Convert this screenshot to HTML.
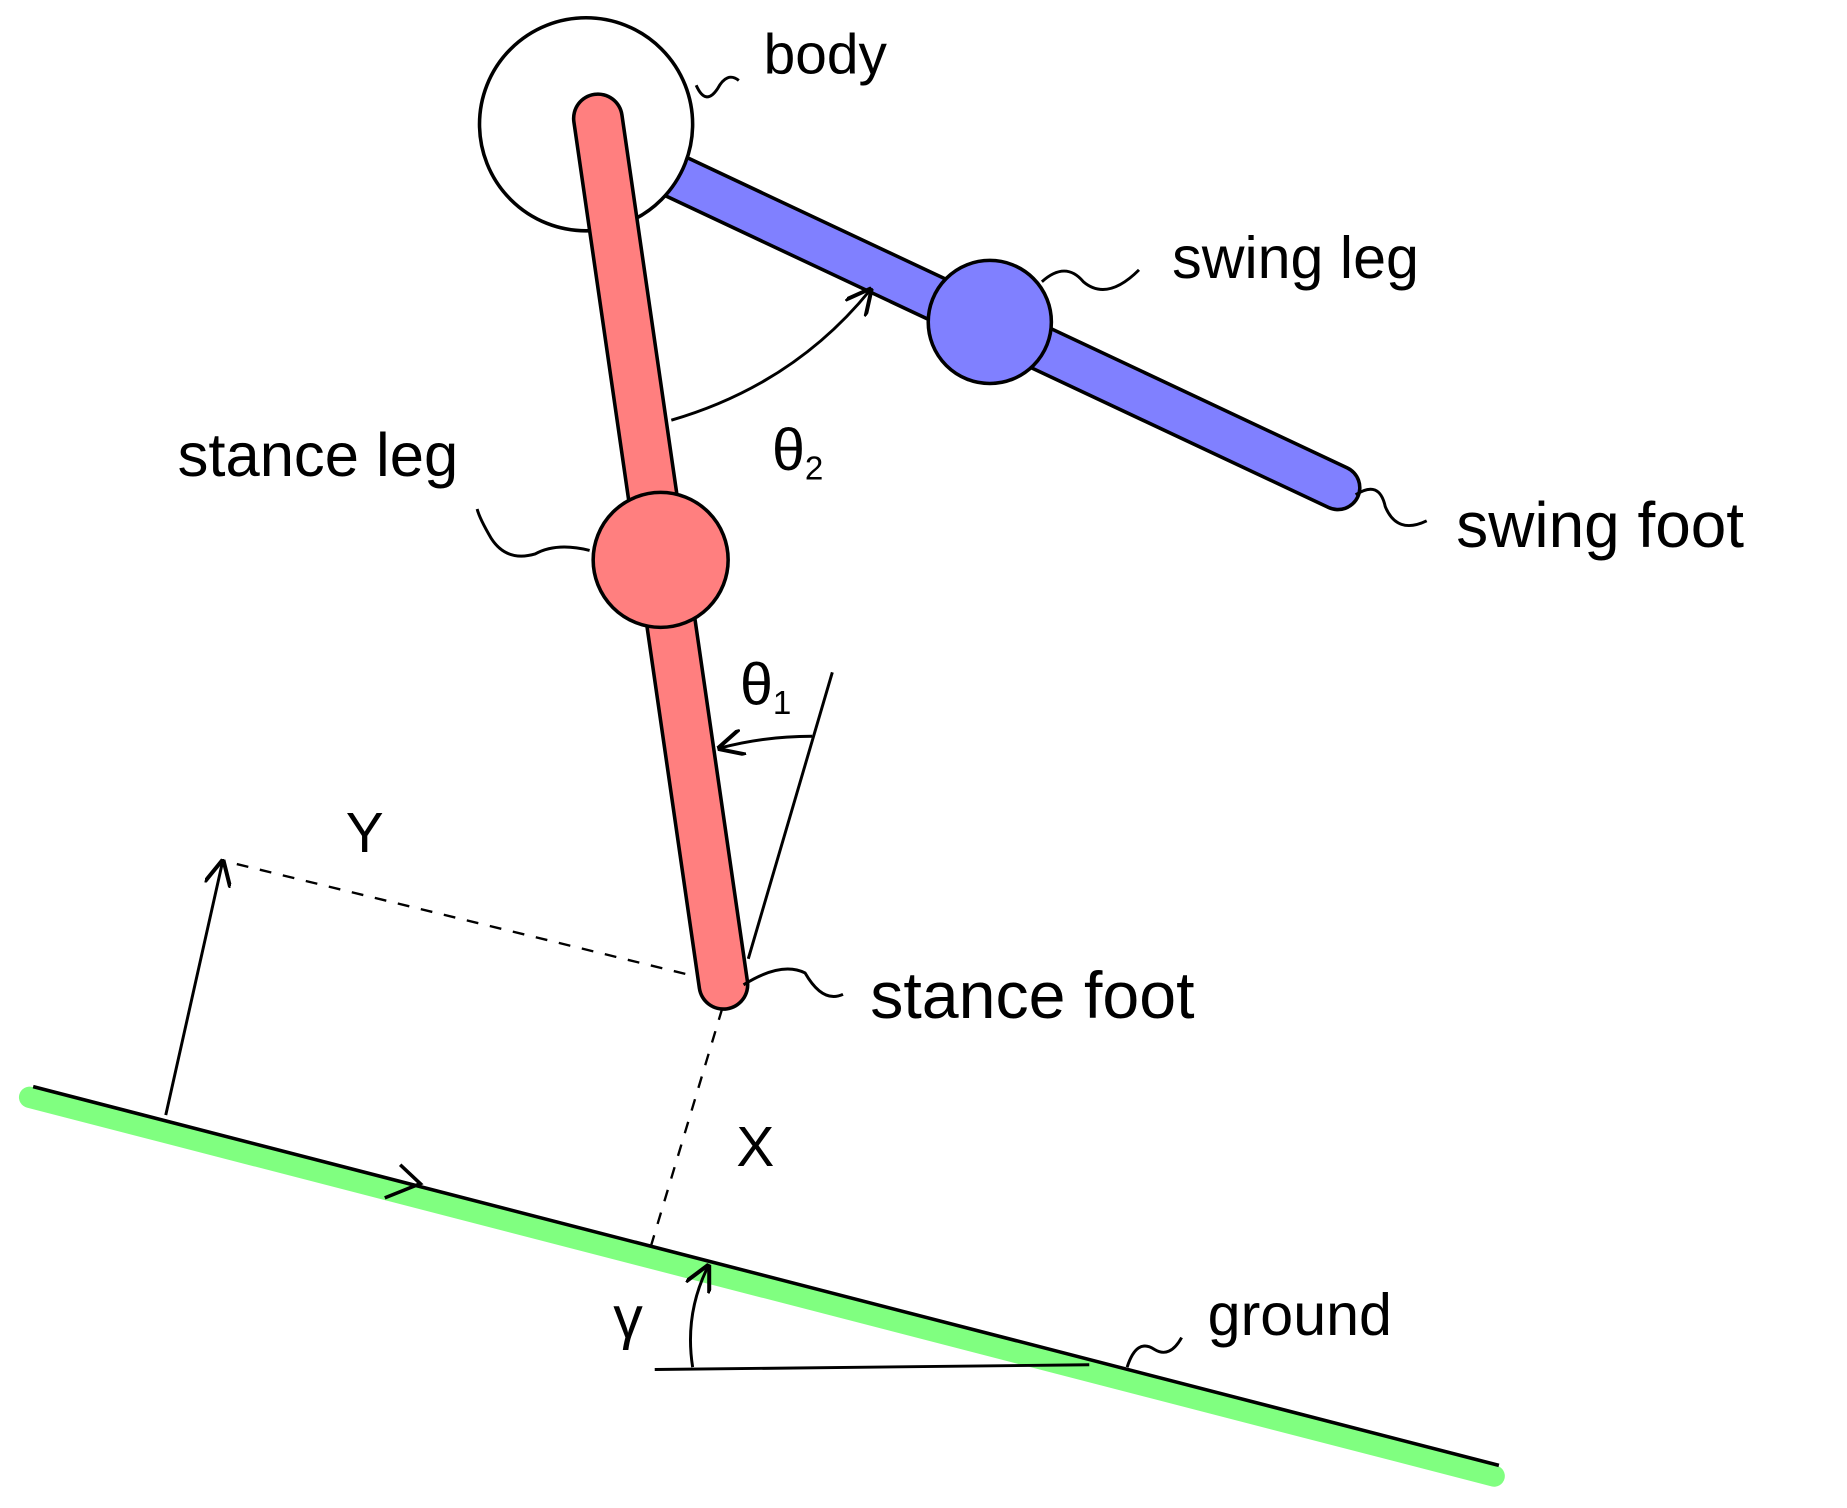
<!DOCTYPE html>
<html><head><meta charset="utf-8"><style>
html,body{margin:0;padding:0;background:#fff;}
svg{display:block;}
text{font-family:"Liberation Sans",sans-serif;fill:#000;}
</style></head><body>
<svg width="1847" height="1508" viewBox="0 0 1560 1274" preserveAspectRatio="none" xmlns="http://www.w3.org/2000/svg">
<defs>
<marker id="ah" viewBox="0 0 10 10" refX="9" refY="5" markerWidth="9" markerHeight="9" orient="auto"><path d="M0,0 L10,5 L0,10" fill="none" stroke="#000" stroke-width="1.5"/></marker>
</defs>
<rect width="1560" height="1274" fill="#fff"/>
<g>
<line x1="25" y1="927" x2="1262" y2="1247" stroke="#80ff80" stroke-width="18" stroke-linecap="round"/>
<line x1="28" y1="918" x2="1266" y2="1238" stroke="#000" stroke-width="3"/>
<path d="M325,1012 L355,1000 L338,984" fill="none" stroke="#000" stroke-width="3"/>
</g>
<g>
<line x1="553" y1="1157" x2="920" y2="1153" stroke="#000" stroke-width="2.5"/>
<path d="M585,1155 Q578,1110 598,1070" fill="none" stroke="#000" stroke-width="2.5" marker-end="url(#ah)"/>
<text x="518" y="1130" font-size="50">γ</text>
</g>
<g stroke="#000" stroke-width="2" fill="none">
<line x1="200" y1="730" x2="588" y2="825" stroke-dasharray="10,10"/>
<line x1="610" y1="852" x2="550" y2="1052" stroke-dasharray="10,10"/>
<line x1="140" y1="942" x2="188" y2="728" stroke-width="2.5" marker-end="url(#ah)"/>
</g>
<text x="292" y="720" font-size="48">Y</text>
<text x="622" y="985" font-size="48">X</text>
<g>
<line x1="560" y1="144" x2="1130" y2="412" stroke="#000" stroke-width="40" stroke-linecap="round"/>
<line x1="560" y1="144" x2="1130" y2="412" stroke="#8080ff" stroke-width="34" stroke-linecap="round"/>
<circle cx="836" cy="272" r="52" fill="#8080ff" stroke="#000" stroke-width="3"/>
</g>
<circle cx="495" cy="105" r="90" fill="#fff" stroke="#000" stroke-width="3"/>
<g>
<line x1="505" y1="100" x2="611" y2="832" stroke="#000" stroke-width="44" stroke-linecap="round"/>
<line x1="505" y1="100" x2="611" y2="832" stroke="#ff7f7f" stroke-width="38" stroke-linecap="round"/>
<circle cx="558" cy="473" r="57" fill="#ff7f7f" stroke="#000" stroke-width="3"/>
</g>
<g fill="none" stroke="#000" stroke-width="2.5">
<line x1="632" y1="810" x2="703" y2="568"/>
<path d="M686,622 Q645,622 608,632" marker-end="url(#ah)"/>
</g>
<text x="625" y="595" font-size="50">θ<tspan font-size="28" dy="8">1</tspan></text>
<path d="M567,355 Q670,325 735,245" fill="none" stroke="#000" stroke-width="2.5" marker-end="url(#ah)"/>
<text x="652" y="397" font-size="50">θ<tspan font-size="28" dy="8">2</tspan></text>
<g fill="none" stroke="#000" stroke-width="2.5">
<path d="M588,72 Q596,90 606,75 Q614,60 624,68"/>
<path d="M880,238 Q900,220 915,238 Q935,255 962,228"/>
<path d="M1145,418 Q1165,405 1170,428 Q1180,452 1205,440"/>
<path d="M498,465 Q470,458 452,468 Q428,475 415,455 Q405,438 403,430"/>
<path d="M628,832 Q660,812 680,822 Q695,848 712,840"/>
<path d="M952,1155 Q960,1130 975,1140 Q988,1148 998,1130"/>
</g>
<text x="645" y="62" font-size="48">body</text>
<text x="990" y="235" font-size="50">swing leg</text>
<text x="1230" y="462" font-size="54">swing foot</text>
<text x="150" y="402" font-size="52">stance leg</text>
<text x="735" y="860" font-size="56">stance foot</text>
<text x="1020" y="1128" font-size="50">ground</text>
</svg>
</body></html>
